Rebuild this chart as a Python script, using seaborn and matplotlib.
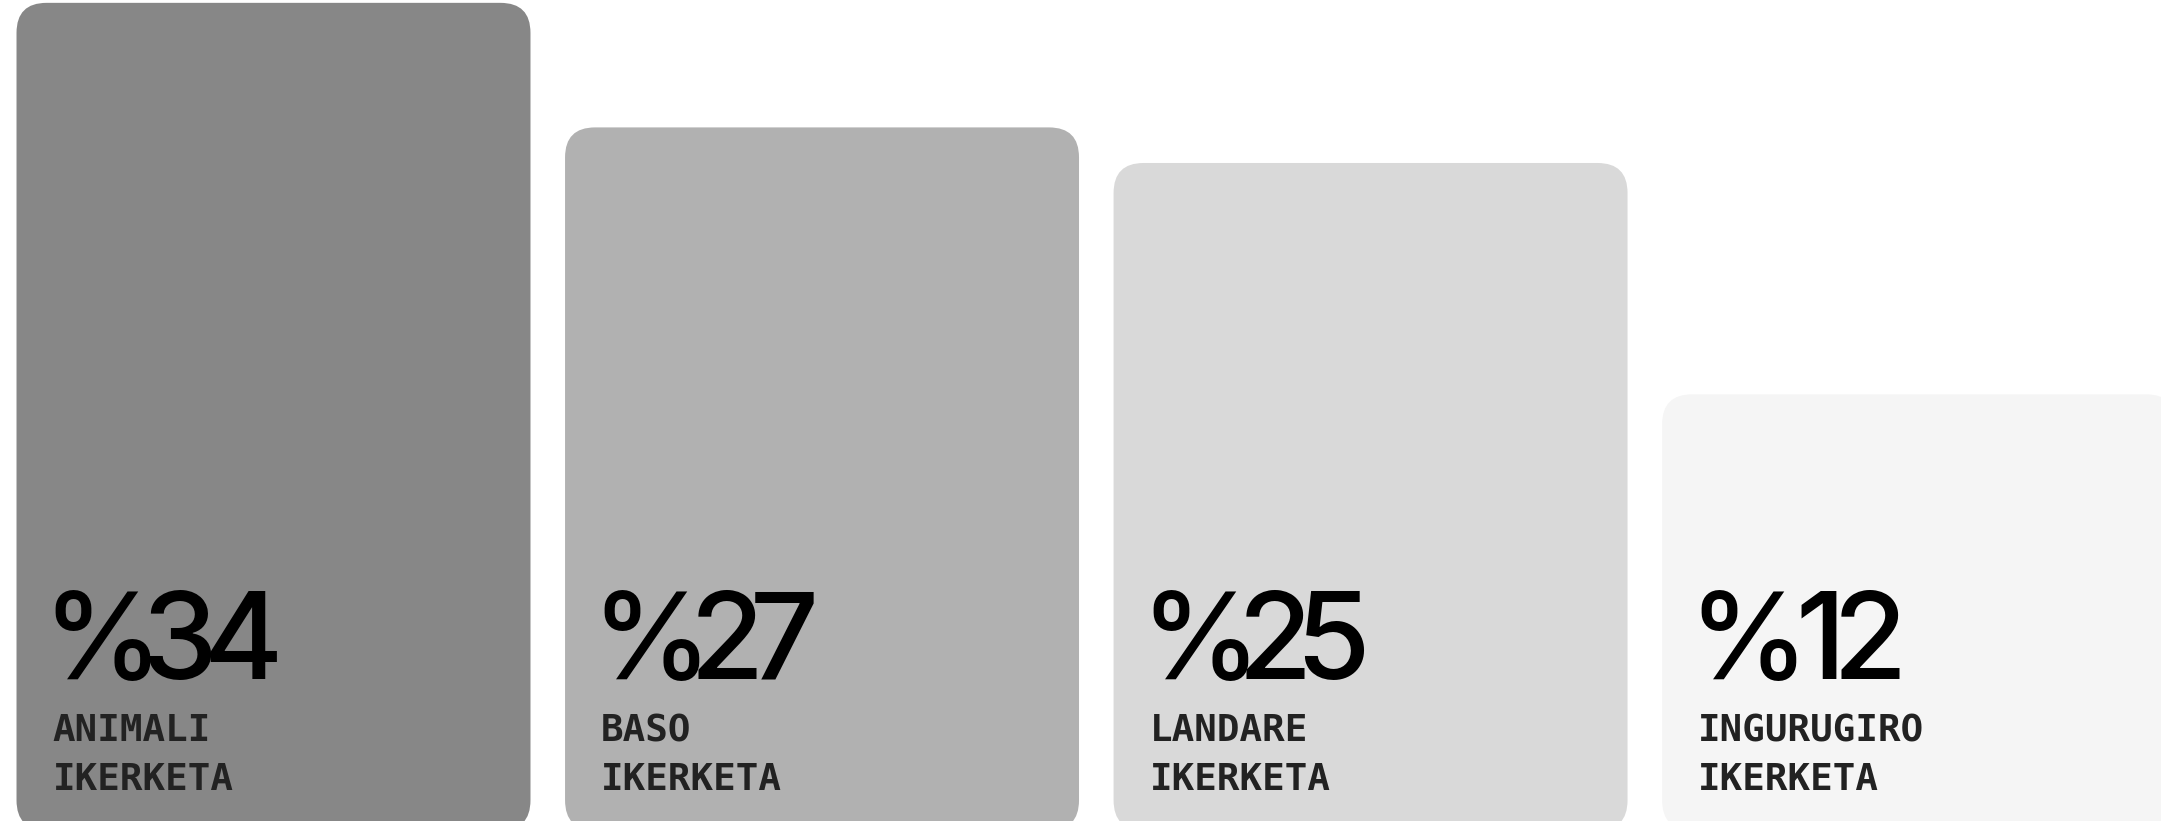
import numpy as np
import seaborn as sns
import matplotlib.pyplot as plt
from matplotlib.patches import FancyBboxPatch
from matplotlib.transforms import IdentityTransform
from matplotlib.font_manager import FontProperties
from matplotlib.textpath import TextPath

# data
categories = ["ANIMALI\nIKERKETA", "BASO\nIKERKETA", "LANDARE\nIKERKETA", "INGURUGIRO\nIKERKETA"]
values = [34, 27, 25, 12]
colors = ["#878787", "#b1b1b1", "#d9d9d9", "#f5f5f5"]

W, H = 2161, 821
fig = plt.figure(figsize=(W / 100, H / 100), dpi=100)
ax = fig.add_axes([0, 0, 1, 1])

sns.barplot(x=categories, y=values, hue=categories, palette=colors,
            width=0.937, saturation=1, legend=False, ax=ax)

xlo, xhi = -0.4986, 3.441
ylo, yhi = -11.98, 34.16
ax.set_xlim(xlo, xhi)
ax.set_ylim(ylo, yhi)
ax.axis("off")

sx = W / (xhi - xlo)   # px per x unit
sy = H / (yhi - ylo)   # px per y unit
base = -12.5           # bars start below the bottom edge

# swap the plain bars for rounded ones
for p in list(ax.patches):
    x, w, h = p.get_x(), p.get_width(), p.get_height()
    fc = p.get_facecolor()
    p.remove()
    box = FancyBboxPatch((x, base), w, h - base,
                         boxstyle=f"round,pad=0,rounding_size={30 / sx}",
                         mutation_aspect=sx / sy, fc=fc, ec="none")
    ax.add_patch(box)

# big numbers, spaced by glyph ink so they sit tight like the original
big_size = 87
big_prop = FontProperties(family="Inter", weight="medium", size=big_size)


def ink(ch):
    ext = TextPath((0, 0), ch, size=big_size * 100 / 72, prop=big_prop).get_extents()
    return ext.x0, ext.x1


def tracked_text(xpix, ypix, s, **kw):
    prev = None
    for ch in s:
        a, b = ink(ch)
        if prev is not None:
            xpix += 5 if "1" in (prev, ch) else -1
        fig.text(xpix - a, ypix, ch, transform=IdentityTransform(),
                 fontproperties=big_prop, **kw)
        xpix += b - a
        prev = ch


for i, (cat, v) in enumerate(zip(categories, values)):
    x0 = ax.transData.transform((i - 0.937 / 2, 0))[0] + 36
    tracked_text(x0 + 3, 142, f"%{v}", color="black", va="baseline", ha="left")
    line1, line2 = cat.split("\n")
    fig.text(x0, 80, line1, transform=IdentityTransform(), fontsize=27,
             family="DejaVu Sans Mono", fontweight="bold", color="#222222",
             va="baseline", ha="left")
    fig.text(x0, 31, line2, transform=IdentityTransform(), fontsize=27,
             family="DejaVu Sans Mono", fontweight="bold", color="#222222",
             va="baseline", ha="left")

fig.savefig("out.png", dpi=100, facecolor="white")
